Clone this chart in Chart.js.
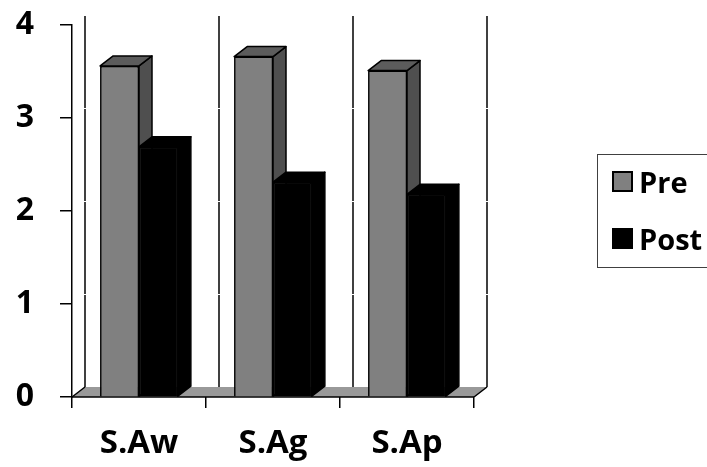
<!DOCTYPE html>
<html>
<head>
<meta charset="utf-8">
<script src="https://cdn.jsdelivr.net/npm/chart.js"></script>
<style>
  html, body { margin: 0; padding: 0; background: #fff; }
  #wrap { width: 707px; height: 467px; }
</style>
</head>
<body>
<div id="wrap"><canvas id="chart" width="707" height="467"></canvas></div>
<script>
// Categories and series values
const categories = ['S.Aw', 'S.Ag', 'S.Ap'];
const preValues = [3.56, 3.66, 3.51];
const postValues = [2.69, 2.31, 2.18];
const yTicks = [0, 1, 2, 3, 4];

// depth of the fake 3D effect
const DX = 13, DY = 10;
const FONT = '"Open Sans", Lato, sans-serif';

// darker shades for the top and side faces
const faceColors = [
    { top: '#5c5c5c', side: '#4f4f4f' },
    { top: '#000000', side: '#000000' }
];

function path(ctx, pts) {
    ctx.beginPath();
    ctx.moveTo(pts[0][0], pts[0][1]);
    for (let i = 1; i < pts.length; i++) ctx.lineTo(pts[i][0], pts[i][1]);
    ctx.closePath();
}

const wallPlugin = {
    id: 'wall3d',
    beforeDatasetsDraw(chart) {
        const ctx = chart.ctx;
        const xs = chart.scales.x, ys = chart.scales.y;
        const left = xs.left, right = xs.right;
        const top = ys.getPixelForValue(yTicks[yTicks.length - 1]);
        const bottom = ys.getPixelForValue(0);
        ctx.save();

        // floor
        path(ctx, [[left, bottom], [right, bottom], [right + DX, bottom - DY], [left + DX, bottom - DY]]);
        ctx.fillStyle = '#999999';
        ctx.fill();

        // back wall: vertical lines on the category boundaries
        ctx.strokeStyle = '#000';
        ctx.lineWidth = 1.5;
        for (let i = 0; i <= categories.length; i++) {
            const bx = xs.getPixelForValue(i - 0.5) + DX;
            ctx.beginPath();
            ctx.moveTo(bx, top - DY);
            ctx.lineTo(bx, bottom - DY);
            ctx.stroke();
        }
        // left wall and floor edges
        ctx.beginPath();
        ctx.moveTo(left, bottom);
        ctx.lineTo(left + DX, bottom - DY);
        ctx.moveTo(right, bottom);
        ctx.lineTo(right + DX, bottom - DY);
        ctx.stroke();

        // faint white grid on the back wall
        ctx.strokeStyle = '#ffffff';
        ctx.lineWidth = 1;
        yTicks.slice(1).forEach(v => {
            const gy = Math.round(ys.getPixelForValue(v) - DY) + 0.5;
            ctx.beginPath();
            ctx.moveTo(left + DX - 2, gy);
            ctx.lineTo(right + DX + 2, gy);
            ctx.stroke();
        });

        // front edge of the floor
        ctx.strokeStyle = '#000';
        ctx.lineWidth = 1.5;
        ctx.beginPath();
        ctx.moveTo(left, bottom);
        ctx.lineTo(right, bottom);
        ctx.stroke();
        ctx.restore();
    },
    afterDatasetsDraw(chart) {
        const ctx = chart.ctx;
        ctx.save();
        chart.data.datasets.forEach((ds, di) => {
            const meta = chart.getDatasetMeta(di);
            meta.data.forEach(bar => {
                bar.draw(ctx);
                const p = bar.getProps(['x', 'y', 'width', 'base'], true);
                const l = p.x - p.width / 2, r = p.x + p.width / 2;
                ctx.lineWidth = 1.5;
                ctx.strokeStyle = '#000';
                ctx.lineJoin = 'round';
                // side
                path(ctx, [[r, p.y], [r + DX, p.y - DY], [r + DX, p.base - DY], [r, p.base]]);
                ctx.fillStyle = faceColors[di].side;
                ctx.fill();
                ctx.stroke();
                // top
                path(ctx, [[l, p.y], [r, p.y], [r + DX, p.y - DY], [l + DX, p.y - DY]]);
                ctx.fillStyle = faceColors[di].top;
                ctx.fill();
                ctx.stroke();
            });
        });
        ctx.restore();
    },
    afterDraw(chart) {
        // legend box on the right
        const ctx = chart.ctx;
        ctx.save();
        ctx.strokeStyle = '#404040';
        ctx.lineWidth = 1;
        ctx.strokeRect(597.5, 154.5, 130, 113);
        ctx.font = 'bold 29px ' + FONT;
        ctx.textBaseline = 'alphabetic';
        ctx.textAlign = 'left';
        chart.data.datasets.forEach((ds, i) => {
            const sy = 171 + i * 57;
            ctx.fillStyle = ds.backgroundColor;
            ctx.fillRect(612, sy, 21, 21);
            ctx.strokeStyle = '#000';
            ctx.lineWidth = 2;
            ctx.strokeRect(613, sy + 1, 19, 19);
            ctx.fillStyle = '#000';
            ctx.fillText(ds.label, 639, sy + 22);
        });
        ctx.restore();
    }
};

new Chart(document.getElementById('chart'), {
    type: 'bar',
    data: {
        labels: categories,
        datasets: [
            { label: 'Pre', data: preValues, backgroundColor: '#808080', borderColor: '#000', borderWidth: 1.5 },
            { label: 'Post', data: postValues, backgroundColor: '#000000', borderColor: '#000', borderWidth: 1.5 }
        ]
    },
    options: {
        responsive: false,
        animation: false,
        devicePixelRatio: 1,
        layout: { padding: { left: 0, right: 233, top: 25, bottom: 0 } },
        categoryPercentage: 0.58,
        barPercentage: 1,
        plugins: {
            legend: { display: false },
            tooltip: { enabled: false }
        },
        scales: {
            x: {
                afterFit(scale) { scale.height = 70; },
                grid: { drawOnChartArea: false, color: '#000', tickLength: 11, lineWidth: 1.5 },
                border: { display: false },
                ticks: {
                    color: '#000',
                    padding: 16,
                    font: { family: FONT, size: 33, weight: 'bold' }
                }
            },
            y: {
                min: 0,
                max: 4,
                afterFit(scale) {
                    scale.width = 72;
                    scale.paddingTop = 0;
                    scale.paddingBottom = 0;
                },
                afterBuildTicks(scale) { scale.ticks = yTicks.map(v => ({ value: v })); },
                grid: { drawOnChartArea: false, color: '#000', tickLength: 12, lineWidth: 1.5 },
                border: { display: true, color: '#000', width: 1.5 },
                ticks: {
                    color: '#000',
                    padding: 26,
                    font: { family: FONT, size: 32, weight: 'bold' }
                }
            }
        }
    },
    plugins: [wallPlugin]
});
</script>
</body>
</html>
